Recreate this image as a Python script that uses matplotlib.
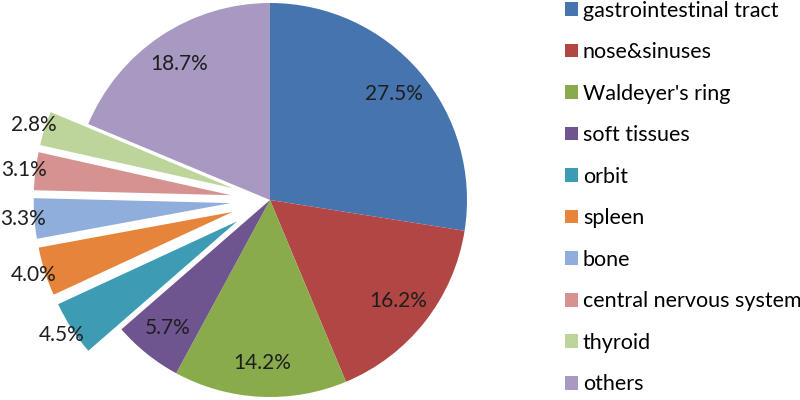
import matplotlib.pyplot as plt
from matplotlib.patches import Patch
import numpy as np

plt.rcParams['font.family'] = ['Lato', 'DejaVu Sans']

sites = ["gastrointestinal tract", "nose&sinuses", "Waldeyer's ring", "soft tissues",
         "orbit", "spleen", "bone", "central nervous system", "thyroid", "others"]
shares = [27.5, 16.2, 14.2, 5.7, 4.5, 4.0, 3.3, 3.1, 2.8, 18.7]
colors = ["#4674AE", "#B14645", "#8AAB4C", "#6F558F", "#3D9BB3",
          "#E5843A", "#8FAEDB", "#D69291", "#BDD49A", "#A899C2"]
explode = [0, 0, 0, 0, 0.2, 0.2, 0.2, 0.2, 0.2, 0]

fig = plt.figure(figsize=(8, 4), dpi=100)
ax = fig.add_axes([0, 0, 1, 1])
R = 197.0  # pie radius in pixels

wedges, texts, autotexts = ax.pie(
    shares, colors=colors, explode=explode, startangle=90, counterclock=False,
    autopct='%1.1f%%', pctdistance=0.83, radius=1.0,
    textprops={'fontsize': 15, 'color': '#1e1e1e'},
    wedgeprops={'linewidth': 0})

# pie() resets limits, so place the pie afterwards
ax.set_xlim(-270 / R, 530 / R)
ax.set_ylim(-200 / R, 200 / R)
ax.set_aspect('equal')
ax.axis('off')

# labels of the pulled-out slices sit just outside them
for w, t, e in zip(wedges, autotexts, explode):
    if e > 0:
        mid = np.deg2rad((w.theta1 + w.theta2) / 2)
        cx, cy = w.center
        t.set_position((cx + 1.06 * np.cos(mid), cy + 1.06 * np.sin(mid)))

handles = [Patch(facecolor=c, edgecolor='none') for c in colors]
fig.legend(handles, sites, loc='upper left', bbox_to_anchor=(0.695, 1.02),
           frameon=False, fontsize=15.5, handlelength=0.6, handleheight=0.6,
           handletextpad=0.25, labelspacing=1.0, borderaxespad=0)

fig.savefig('out.png', dpi=100)
